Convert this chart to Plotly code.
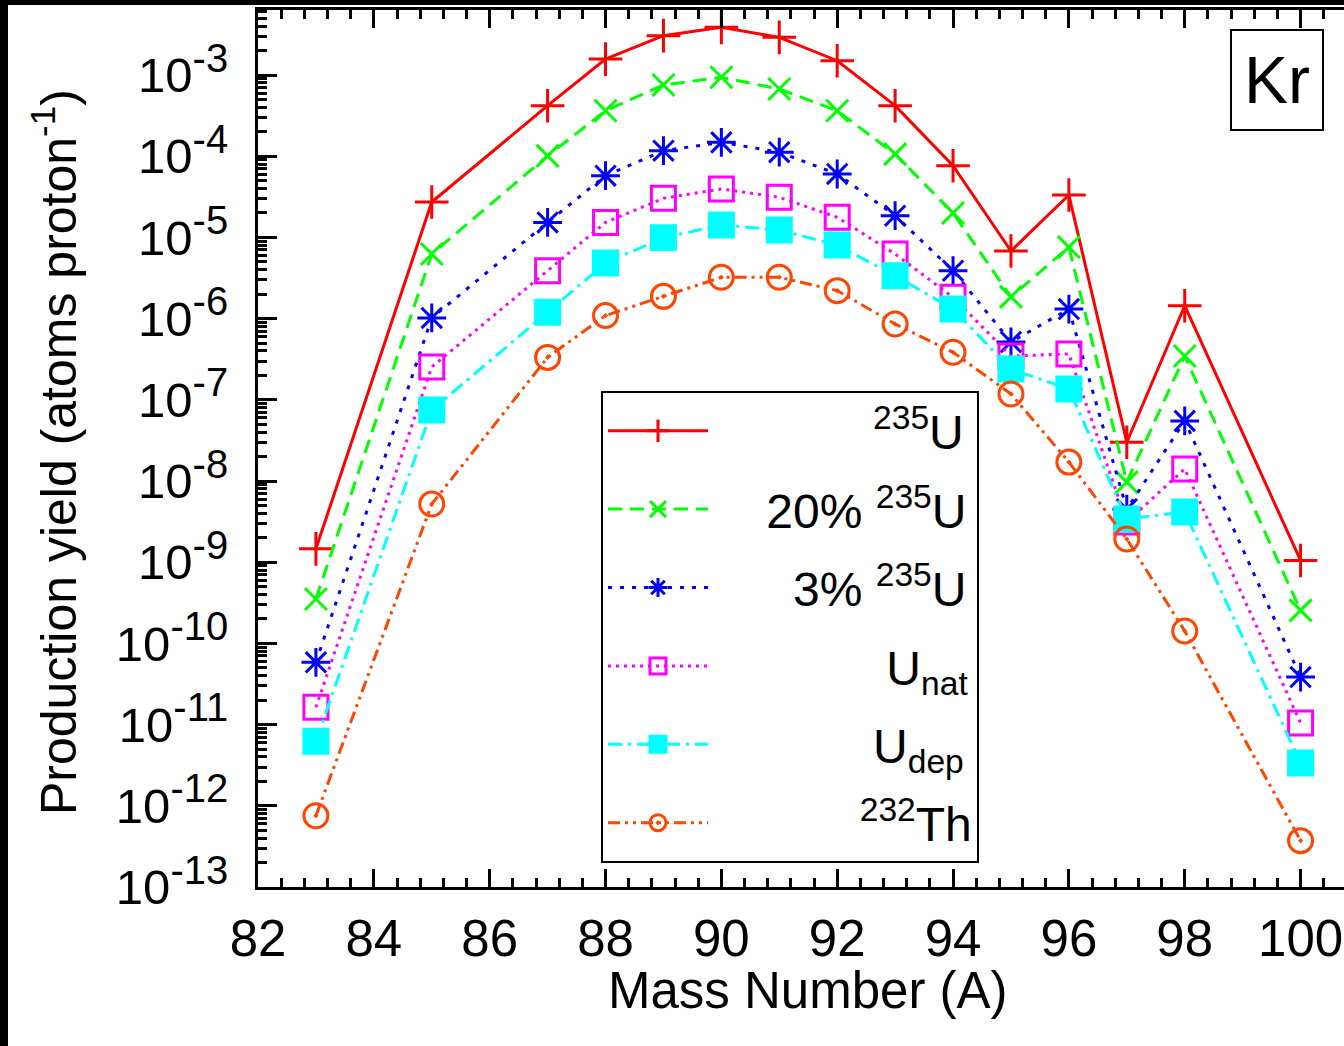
import plotly.graph_objects as go

# ---------------- data ----------------
mass_numbers = [83, 85, 87, 88, 89, 90, 91, 92, 93, 94, 95, 96, 97, 98, 100]

yield_u235 = [1.46e-9, 2.73e-5, 4.19e-4, 1.57e-3, 3.05e-3, 3.86e-3, 2.91e-3, 1.50e-3,
              4.19e-4, 7.64e-5, 6.8e-6, 3.33e-5, 3.0e-8, 1.44e-6, 1.05e-9]
yield_u235_20 = [3.52e-10, 6.25e-6, 1.01e-4, 3.63e-4, 7.53e-4, 9.37e-4, 6.72e-4, 3.63e-4,
                 1.06e-4, 2.0e-5, 1.85e-6, 7.6e-6, 9.7e-9, 3.46e-7, 2.55e-10]
yield_u235_3 = [5.85e-11, 1.02e-6, 1.53e-5, 5.75e-5, 1.17e-4, 1.48e-4, 1.12e-4, 6.04e-5,
                1.85e-5, 3.89e-6, 5.15e-7, 1.31e-6, 4.5e-9, 5.5e-8, 3.85e-11]
yield_unat = [1.63e-11, 2.54e-7, 3.89e-6, 1.53e-5, 3.03e-5, 3.95e-5, 3.12e-5, 1.77e-5,
              6.25e-6, 1.83e-6, 3.46e-7, 3.67e-7, 3.13e-9, 1.41e-8, 1.05e-11]
yield_udep = [6.22e-12, 7.48e-8, 1.2e-6, 4.84e-6, 9.9e-6, 1.42e-5, 1.23e-5, 8.05e-6,
              3.37e-6, 1.31e-6, 2.39e-7, 1.36e-7, 3.4e-9, 4.15e-9, 3.37e-12]
yield_th232 = [7.55e-13, 5.2e-9, 3.33e-7, 1.09e-6, 1.88e-6, 3.23e-6, 3.23e-6, 2.21e-6,
               8.57e-7, 3.85e-7, 1.18e-7, 1.71e-8, 1.93e-9, 1.42e-10, 3.72e-13]

NB = "\u00a0"
series_names = [
    NB * 12 + "<sup>235</sup>U",
    NB * 4 + "20% <sup>235</sup>U",
    NB * 6 + "3% <sup>235</sup>U",
    NB * 13 + "U<sub>nat</sub>",
    NB * 12 + "U<sub>dep</sub>",
    NB * 11 + "<sup>232</sup>Th",
]
series_values = [yield_u235, yield_u235_20, yield_u235_3, yield_unat, yield_udep, yield_th232]

x_tick_vals = [82, 84, 86, 88, 90, 92, 94, 96, 98, 100]
y_exponents = list(range(-13, -2))
y_tick_vals = [10.0 ** e for e in y_exponents]
y_tick_text = ["10<sup><span style='font-size:40px'>%d</span></sup>" % e for e in y_exponents]
y_minor_vals = [m * 10.0 ** e for e in range(-13, -2) for m in range(2, 10)]

# ---------------- styles ----------------
colors = ["#ff0000", "#00ff00", "#0000ff", "#ff00ff", "#00ffff", "#ff4500"]
dashes = ["solid", "14px,8px", "4px,8px", "3px,5px", "14px,6px,3px,6px", "12px,5px,3px,5px,3px,5px"]
symbols = ["cross-thin-open", "x-thin-open", "asterisk-open", "square-open", "square", "circle-open-dot"]
sizes = [24, 22, 24, 24, 24, 24]

FONT = "Liberation Sans, Arial, Helvetica, sans-serif"

fig = go.Figure()
for i, (name, vals) in enumerate(zip(series_names, series_values)):
    fig.add_trace(go.Scatter(
        x=mass_numbers, y=vals, name=name, mode="lines+markers",
        legendgroup="g%d" % i,
        line=dict(color=colors[i], width=3, dash=dashes[i]),
        marker=dict(symbol=symbols[i], size=sizes[i], color=colors[i],
                    line=dict(color=colors[i], width=3)),
    ))

W, H = 1344, 1046
L, R, T, B = 258, 0, 10, 159
pw, ph = W - L - R, H - T - B
px_per_unit = 57.92
x_max = 82 + pw / px_per_unit
y_top = -13 + ph / 81.2

def px_to_paper_x(px):
    return (px - L) / pw

def px_to_paper_y(py):
    return (H - B - py) / ph

fig.update_layout(
    width=W, height=H,
    margin=dict(l=L, r=R, t=T, b=B, pad=0),
    paper_bgcolor="white", plot_bgcolor="white",
    font=dict(family=FONT, color="black", size=48),
    showlegend=True,
    legend=dict(
        x=px_to_paper_x(601), y=px_to_paper_y(391), xanchor="left", yanchor="top",
        bordercolor="black", borderwidth=2, bgcolor="white",
        font=dict(family=FONT, size=48, color="black"),
        itemwidth=100, tracegroupgap=13, traceorder="grouped",
    ),
    xaxis=dict(
        range=[82, x_max], tickvals=x_tick_vals, ticktext=[str(v) for v in x_tick_vals],
        showgrid=False, zeroline=False, showline=True, linecolor="black", linewidth=3,
        mirror="ticks", ticks="inside", ticklen=18, tickwidth=3, tickcolor="black",
        minor=dict(dtick=0.4, tick0=82, ticks="inside", ticklen=9, tickwidth=2.5,
                   tickcolor="black", showgrid=False),
        tickfont=dict(family=FONT, size=51, color="black"),
        ticklabelstandoff=5,
    ),
    yaxis=dict(
        type="log", range=[-13, y_top], tickmode="array",
        tickvals=y_tick_vals, ticktext=y_tick_text,
        showgrid=False, zeroline=False, showline=True, linecolor="black", linewidth=3,
        ticks="inside", ticklen=19, tickwidth=3, tickcolor="black",
        minor=dict(tickmode="array", tickvals=y_minor_vals, ticks="inside", ticklen=9,
                   tickwidth=2.5, tickcolor="black", showgrid=False),
        tickfont=dict(family=FONT, size=49, color="black"),
        ticklabelstandoff=17,
    ),
    yaxis2=dict(
        type="log", range=[-13, y_top], overlaying="y", side="right", anchor="x",
        tickmode="array", tickvals=y_tick_vals, showticklabels=False,
        showgrid=False, zeroline=False, showline=False,
        ticks="inside", ticklen=6, tickwidth=3, tickcolor="black",
    ),
)

annotations = [
    dict(text="Mass Number (A)", xref="paper", yref="paper",
         x=px_to_paper_x(808), y=px_to_paper_y(990), xanchor="center", yanchor="middle",
         showarrow=False, font=dict(family=FONT, size=51, color="black")),
    dict(text="Production yield (atoms proton<sup>-1</sup>)", xref="paper", yref="paper",
         x=px_to_paper_x(55), y=px_to_paper_y(452), xanchor="center", yanchor="middle",
         textangle=-90, showarrow=False, font=dict(family=FONT, size=50, color="black")),
    dict(text="Kr", xref="paper", yref="paper",
         x=px_to_paper_x(1277), y=px_to_paper_y(80), xanchor="center", yanchor="middle",
         showarrow=False, font=dict(family=FONT, size=66, color="black"),
         bordercolor="black", borderwidth=2, borderpad=12, bgcolor="white"),
]
fig.update_layout(annotations=annotations)

# black frame strips of the original picture (top and left edges)
fig.add_shape(type="rect", xref="paper", yref="paper",
              x0=px_to_paper_x(0), x1=px_to_paper_x(8), y0=px_to_paper_y(H), y1=px_to_paper_y(0),
              fillcolor="black", line=dict(width=0), layer="above")
fig.add_shape(type="rect", xref="paper", yref="paper",
              x0=px_to_paper_x(0), x1=px_to_paper_x(W), y0=px_to_paper_y(5), y1=px_to_paper_y(0),
              fillcolor="black", line=dict(width=0), layer="above")

fig.write_html("out.html", config={"displayModeBar": False},
               post_script="document.body.style.margin='0';document.body.style.overflow='hidden';")
